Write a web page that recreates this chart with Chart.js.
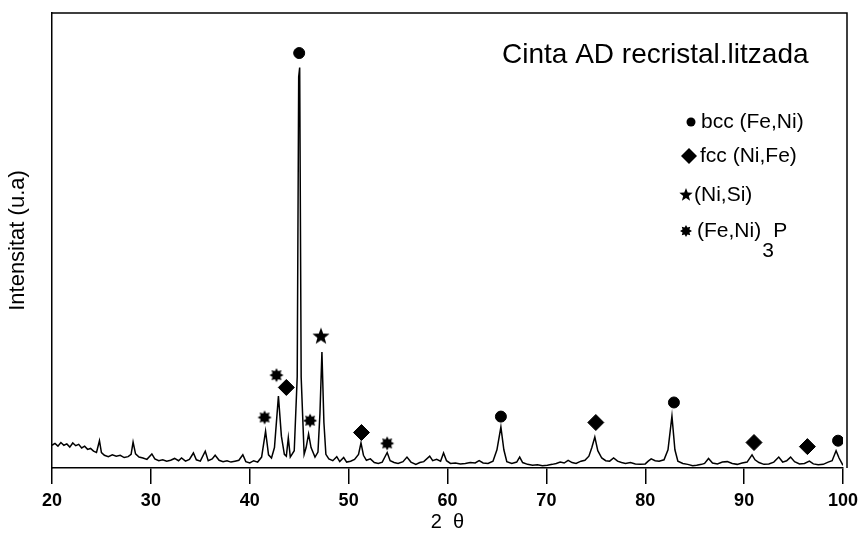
<!DOCTYPE html>
<html>
<head>
<meta charset="utf-8">
<script src="https://cdn.jsdelivr.net/npm/chart.js@4.4.0/dist/chart.umd.min.js"></script>
<style>
	body { margin: 0; background: #fff; }
	#wrap { width: 860px; height: 539px; position: relative; }
</style>
</head>
<body>
<div id="wrap"><canvas id="xrd"></canvas></div>
<script>
// XRD pattern
const twoTheta = [
	20.0, 20.3, 20.6, 20.9, 21.2, 21.5, 21.8, 22.1, 22.4, 22.7, 23.0, 23.3, 23.6, 23.9, 24.2, 24.5, 24.8, 25.0, 25.3, 25.7,
	26.1, 26.5, 26.9, 27.3, 27.7, 28.0, 28.2, 28.45, 28.8, 29.2, 29.6, 30.1, 30.4, 30.8, 31.2, 31.6, 32.0, 32.4, 32.8, 33.1,
	33.5, 33.9, 34.3, 34.6, 35.0, 35.5, 35.8, 36.2, 36.5, 36.9, 37.3, 37.7, 38.1, 38.5, 38.9, 39.3, 39.6, 40.0, 40.4, 40.8,
	41.2, 41.6, 41.9, 42.2, 42.5, 42.9, 43.2, 43.5, 43.7, 43.9, 44.1, 44.5, 44.8, 44.95, 45.05, 45.2, 45.5, 45.7, 45.95, 46.2,
	46.6, 46.9, 47.1, 47.3, 47.5, 47.7, 48.0, 48.4, 48.8, 49.1, 49.5, 49.8, 50.2, 50.6, 51.0, 51.25, 51.5, 51.8, 52.2, 52.6,
	53.0, 53.4, 53.9, 54.2, 54.6, 55.0, 55.5, 55.9, 56.3, 56.8, 57.2, 57.6, 58.2, 58.5, 58.9, 59.3, 59.6, 59.9, 60.3, 60.8,
	61.3, 61.8, 62.3, 62.8, 63.2, 63.6, 64.1, 64.6, 65.0, 65.4, 65.7, 66.0, 66.5, 67.0, 67.3, 67.6, 68.1, 68.6, 69.1, 69.6,
	70.1, 70.6, 71.0, 71.4, 71.8, 72.2, 72.6, 73.0, 73.5, 73.9, 74.3, 74.6, 74.9, 75.2, 75.6, 76.0, 76.4, 76.8, 77.2, 77.6,
	78.0, 78.5, 79.0, 79.5, 80.0, 80.3, 80.6, 81.0, 81.4, 81.9, 82.3, 82.7, 83.0, 83.3, 83.8, 84.3, 84.8, 85.2, 85.7, 86.0,
	86.4, 86.8, 87.3, 87.8, 88.3, 88.8, 89.3, 89.8, 90.3, 90.8, 91.1, 91.5, 92.0, 92.5, 93.0, 93.5, 93.9, 94.3, 94.7, 95.1,
	95.6, 96.1, 96.6, 97.0, 97.5, 98.0, 98.5, 98.9, 99.3, 99.6, 100.0
];
const intensity = [
	5.0, 5.4, 4.8, 5.6, 5.0, 5.3, 4.6, 5.5, 4.9, 5.2, 4.4, 4.8, 4.1, 4.3, 3.7, 3.4, 6.0, 3.4, 2.8, 2.5,
	2.9, 2.6, 2.8, 2.3, 2.5, 3.0, 5.7, 3.1, 2.4, 2.2, 1.9, 3.1, 2.0, 1.6, 1.8, 1.5, 1.7, 2.1, 1.6, 2.2,
	1.5, 1.9, 3.3, 1.8, 1.5, 3.7, 1.6, 2.0, 2.8, 1.7, 1.4, 1.6, 1.3, 1.5, 1.7, 2.9, 1.4, 1.1, 1.6, 1.3,
	2.4, 8.1, 2.9, 2.2, 4.5, 15.8, 7.0, 3.0, 2.6, 6.6, 2.4, 3.8, 20.0, 86.0, 88.0, 20.0, 3.0, 4.5, 7.5, 4.5,
	2.4, 3.5, 12.0, 25.5, 10.0, 3.0, 2.0, 1.6, 2.5, 1.4, 2.3, 1.3, 1.5, 1.9, 3.0, 5.5, 2.8, 1.7, 2.0, 1.2,
	1.0, 1.3, 3.4, 1.6, 1.2, 1.0, 1.4, 2.4, 1.3, 0.8, 1.2, 1.4, 2.6, 1.6, 1.9, 1.5, 3.3, 1.6, 1.0, 1.1,
	0.9, 1.0, 1.2, 1.1, 1.6, 1.1, 1.0, 1.5, 4.0, 9.0, 4.0, 1.4, 1.0, 1.3, 2.4, 1.2, 0.8, 0.6, 0.7, 0.5,
	0.6, 0.8, 1.0, 1.3, 1.1, 1.7, 1.2, 1.0, 1.5, 1.7, 2.6, 4.5, 6.8, 3.8, 2.2, 1.6, 1.5, 2.2, 1.5, 1.2,
	1.0, 1.2, 0.9, 0.8, 0.9, 1.5, 2.0, 1.6, 1.5, 1.8, 4.0, 11.4, 4.0, 1.5, 1.0, 0.8, 0.5, 0.6, 0.8, 1.0,
	2.1, 1.1, 0.9, 1.3, 1.4, 1.0, 0.8, 1.1, 1.3, 2.9, 1.8, 1.2, 0.8, 0.9, 1.3, 2.4, 1.3, 1.6, 2.4, 1.4,
	0.9, 1.0, 1.5, 0.9, 0.7, 0.8, 1.3, 1.6, 3.8, 2.2, 0.6
];

// phase markers (position, height of the symbol)
const bccX = [45.0, 65.4, 82.9, 99.5];
const bccY = [91.2, 11.3, 14.4, 6.0];
const fccX = [43.7, 51.3, 75.0, 91.0, 96.4];
const fccY = [17.7, 7.8, 10.0, 5.6, 4.7];
const niSiX = [47.2];
const niSiY = [28.9];
const phosX = [41.5, 42.7, 46.1, 53.9];
const phosY = [11.1, 20.4, 10.4, 5.4];

const xTicks = [20, 30, 40, 50, 60, 70, 80, 90, 100];

const FONT = "'Liberation Sans', Arial, sans-serif";

function spiky(r, spikes, inner) {
	const c = document.createElement('canvas');
	c.width = c.height = 2 * r + 2;
	const g = c.getContext('2d');
	g.beginPath();
	for (let i = 0; i < spikes * 2; i++) {
		const rad = i % 2 ? r * inner : r;
		const a = -Math.PI / 2 + i * Math.PI / spikes;
		g.lineTo(r + 1 + rad * Math.cos(a), r + 1 + rad * Math.sin(a));
	}
	g.closePath();
	g.fillStyle = '#000';
	g.fill();
	return c;
}

const starImg = spiky(9, 5, 0.42);
const phosImg = spiky(7, 8, 0.62);
const starSmall = spiky(7, 5, 0.42);
const phosSmall = spiky(6, 8, 0.62);

function pts(xs, ys) {
	return xs.map((x, i) => ({ x: x, y: ys[i] }));
}

// top + right frame and the in-plot legend
const framePlugin = {
	id: 'frame',
	afterDraw(chart) {
		const { ctx, chartArea: a } = chart;
		ctx.save();
		ctx.strokeStyle = '#000';
		ctx.lineWidth = 1.5;
		ctx.beginPath();
		ctx.moveTo(a.left, a.top);
		ctx.lineTo(a.right + 4, a.top);
		ctx.lineTo(a.right + 4, a.bottom);
		ctx.stroke();

		ctx.fillStyle = '#000';
		ctx.textBaseline = 'middle';
		ctx.font = '28px ' + FONT;
		ctx.fillText('Cinta AD recristal.litzada', 502, 55);

		ctx.font = '21px ' + FONT;
		// bcc
		ctx.beginPath();
		ctx.arc(691, 122, 4.5, 0, Math.PI * 2);
		ctx.fill();
		ctx.fillText('bcc (Fe,Ni)', 701, 122);
		// fcc
		ctx.beginPath();
		ctx.moveTo(689, 148); ctx.lineTo(697, 156); ctx.lineTo(689, 164); ctx.lineTo(681, 156);
		ctx.closePath();
		ctx.fill();
		ctx.fillText('fcc (Ni,Fe)', 700, 156);
		// Ni,Si
		ctx.drawImage(starSmall, 686 - starSmall.width / 2, 195 - starSmall.height / 2);
		ctx.fillText('(Ni,Si)', 694, 195);
		// (Fe,Ni)3P
		ctx.drawImage(phosSmall, 686 - phosSmall.width / 2, 231 - phosSmall.height / 2);
		ctx.fillText('(Fe,Ni)', 697, 231);
		const w = ctx.measureText('(Fe,Ni)').width;
		ctx.fillText('3', 697 + w + 1, 251);
		ctx.fillText('P', 697 + w + 12, 231);
		ctx.restore();
	}
};

new Chart(document.getElementById('xrd'), {
	type: 'scatter',
	data: {
		datasets: [
			{
				data: pts(twoTheta, intensity),
				showLine: true,
				borderColor: '#000',
				borderWidth: 1.5,
				pointRadius: 0,
				tension: 0
			},
			{ data: pts(bccX, bccY), pointStyle: 'circle', pointRadius: 5.5, backgroundColor: '#000', borderColor: '#000' },
			{ data: pts(fccX, fccY), pointStyle: 'rectRot', pointRadius: 8, backgroundColor: '#000', borderColor: '#000' },
			{ data: pts(niSiX, niSiY), pointStyle: starImg },
			{ data: pts(phosX, phosY), pointStyle: phosImg }
		]
	},
	options: {
		responsive: true,
		maintainAspectRatio: false,
		animation: false,
		layout: { padding: { top: 13, right: 17, left: 0, bottom: 0 } },
		plugins: {
			legend: { display: false },
			tooltip: { enabled: false }
		},
		scales: {
			x: {
				type: 'linear',
				min: 20,
				max: 100,
				afterBuildTicks: (s) => { s.ticks = xTicks.map(v => ({ value: v })); },
				afterFit: (s) => { s.height = 71; s.paddingLeft = 0; s.paddingRight = 0; },
				ticks: { color: '#000', font: { family: FONT, size: 18, weight: 'bold' }, padding: 6 },
				grid: { drawOnChartArea: false, drawTicks: true, tickLength: 16, color: '#000', lineWidth: 1.5 },
				border: { color: '#000', width: 1.5 },
				title: {
					display: true,
					text: '2  θ',
					color: '#000',
					font: { family: FONT, size: 20 },
					padding: { top: 0, bottom: 5 }
				}
			},
			y: {
				min: 0,
				max: 100,
				afterFit: (s) => { s.width = 52; },
				ticks: { display: false },
				grid: { display: false },
				border: { color: '#000', width: 1.5 },
				title: {
					display: true,
					text: 'Intensitat (u.a)',
					color: '#000',
					font: { family: FONT, size: 22 },
					padding: { top: 5, bottom: 0 }
				}
			}
		}
	},
	plugins: [framePlugin]
});
</script>
</body>
</html>
